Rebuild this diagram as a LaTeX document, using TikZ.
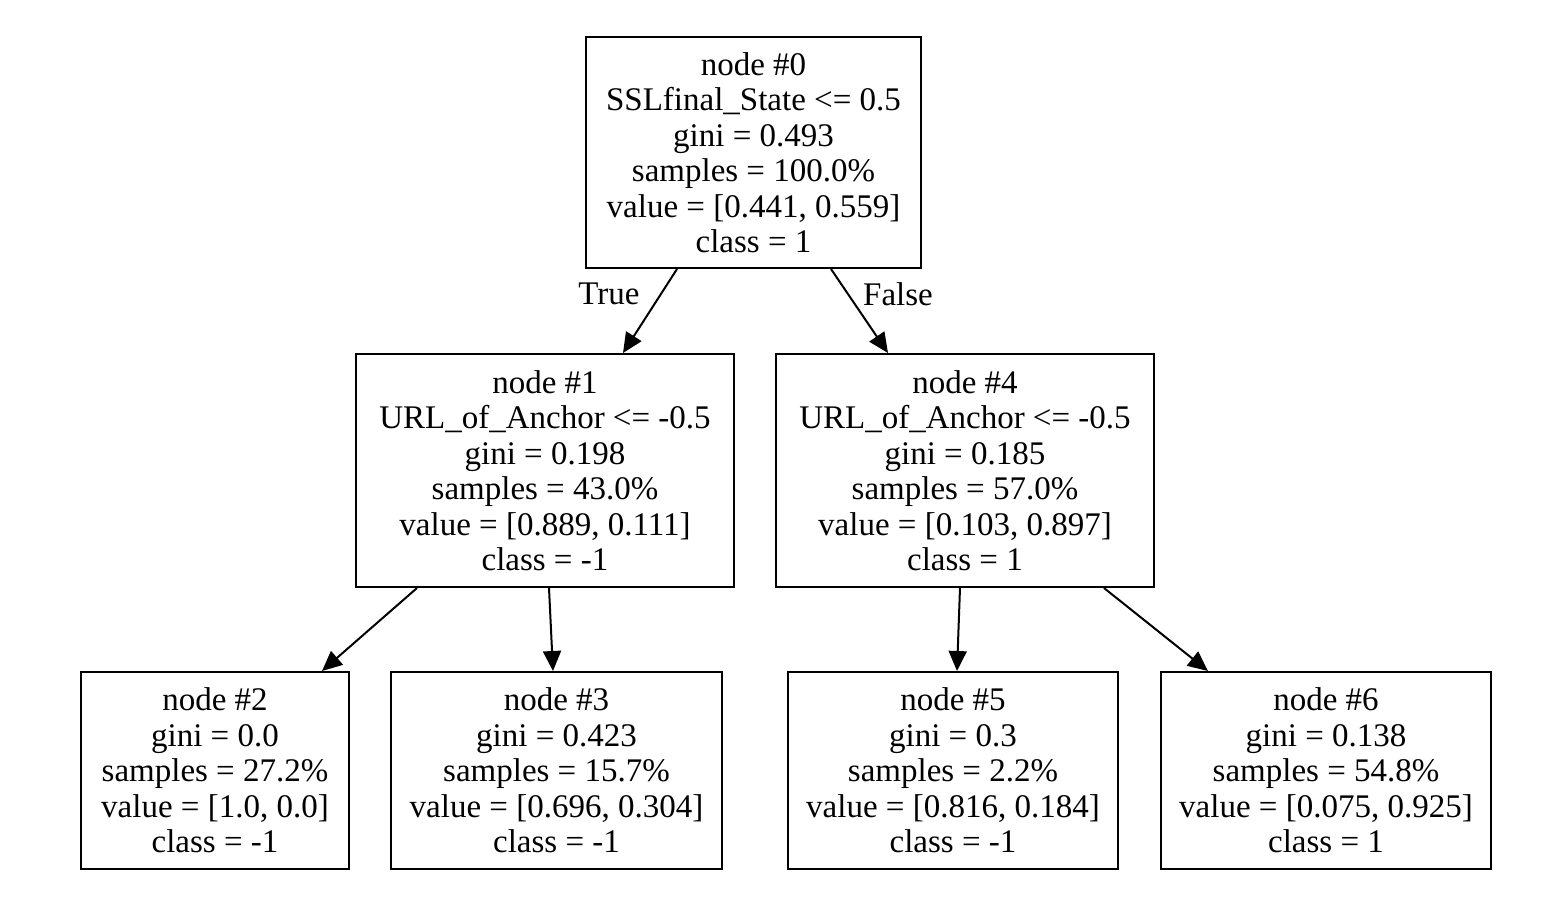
\documentclass[tikz,border=0pt]{standalone}
\usepackage{fontspec}
\setmainfont{Liberation Serif}
\usetikzlibrary{arrows.meta}

\begin{document}
\begin{tikzpicture}[x=0.5pt, y=-0.5pt,
    treebox/.style={draw, line width=1pt, rectangle, align=center, inner sep=0pt,
                    font=\fontsize{16.5}{17.75}\selectfont},
    treeedge/.style={line width=1pt, -{Triangle[length=10pt, width=9pt]}, shorten >=0pt},
    edgelabel/.style={font=\fontsize{16.5}{17.75}\selectfont}]
\useasboundingbox (0,0) rectangle (1560,917);
                % root
                \node[treebox, minimum width=167.5pt, minimum height=115.5pt] (n0) at (753.5,152.5) {node \#0\\SSLfinal\_State <= 0.5\\gini = 0.493\\samples = 100.0\%\\value = [0.441, 0.559]\\class = 1};
                % second level
                \node[treebox, minimum width=189pt, minimum height=116.5pt] (n1) at (545,470.5) {node \#1\\URL\_of\_Anchor <= -0.5\\gini = 0.198\\samples = 43.0\%\\value = [0.889, 0.111]\\class = -1};
                \node[treebox, minimum width=189pt, minimum height=116.5pt] (n4) at (965,470.5) {node \#4\\URL\_of\_Anchor <= -0.5\\gini = 0.185\\samples = 57.0\%\\value = [0.103, 0.897]\\class = 1};
                % leaves
                \node[treebox, minimum width=134pt, minimum height=98.5pt] (n2) at (215,770.5) {node \#2\\gini = 0.0\\samples = 27.2\%\\value = [1.0, 0.0]\\class = -1};
                \node[treebox, minimum width=165.5pt, minimum height=98.5pt] (n3) at (556.5,770.5) {node \#3\\gini = 0.423\\samples = 15.7\%\\value = [0.696, 0.304]\\class = -1};
                \node[treebox, minimum width=165pt, minimum height=98.5pt] (n5) at (953,770.5) {node \#5\\gini = 0.3\\samples = 2.2\%\\value = [0.816, 0.184]\\class = -1};
                \node[treebox, minimum width=165pt, minimum height=98.5pt] (n6) at (1326,770.5) {node \#6\\gini = 0.138\\samples = 54.8\%\\value = [0.075, 0.925]\\class = 1};
                % edges
                \draw[treeedge] ([xshift=-38.25pt]n0.south) -- ([xshift=39pt]n1.north);
                \draw[treeedge] ([xshift=38.75pt]n0.south) -- ([xshift=-38.5pt]n4.north);
                \draw[treeedge] ([xshift=-64pt]n1.south) -- ([xshift=53.5pt]n2.north);
                \draw[treeedge] ([xshift=2pt]n1.south) -- ([xshift=-1.75pt]n3.north);
                \draw[treeedge] ([xshift=-2.5pt]n4.south) -- ([xshift=2pt]n5.north);
                \draw[treeedge] ([xshift=69.5pt]n4.south) -- ([xshift=-59pt]n6.north);
                \node[edgelabel] (lbltrue) at (609,294) {True};
                \node[edgelabel] (lblfalse) at (898,294) {False};
            \end{tikzpicture}
\end{document}
